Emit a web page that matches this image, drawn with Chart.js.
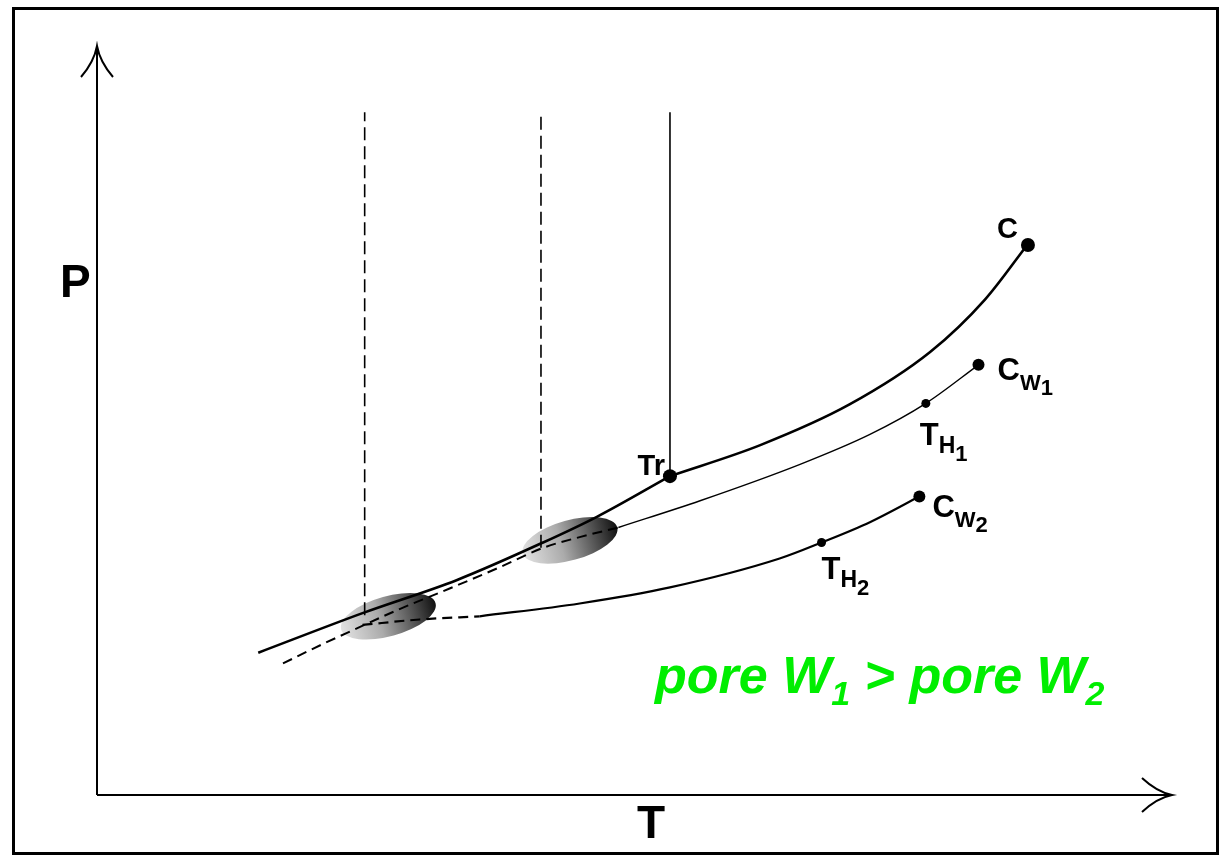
<!DOCTYPE html>
<html>
<head>
<meta charset="utf-8">
<script src="https://cdn.jsdelivr.net/npm/chart.js@4.4.0/dist/chart.umd.min.js"></script>
<style>
  html, body { margin: 0; padding: 0; background: #fff; }
  #wrap { width: 1220px; height: 856px; }
</style>
</head>
<body>
<div id="wrap"><canvas id="phaseChart" width="1220" height="856"></canvas></div>
<script>
  // Schematic P-T diagram (arbitrary units)
  // bulk: sublimation branch up to Tr, then vaporization branch up to C
  const sublT = [15.0, 24.7, 33.5, 41.5, 46.5, 53.3];
  const sublP = [13.3, 17.0, 20.1, 23.6, 26.0, 29.8];
  const vapT = [53.3, 61.7, 70.0, 77.5, 82.6, 86.6];
  const vapP = [29.8, 32.7, 36.5, 41.4, 46.3, 51.5];

  // pore W1: metastable (dashed) part and stable part up to Cw1
  const w1MetaT = [17.3, 21.2, 23.8, 28.2, 32.8, 37.5, 41.5, 44.9, 48.5];
  const w1MetaP = [12.3, 14.2, 15.4, 17.4, 19.3, 21.3, 23.1, 24.1, 25.0];
  const w1T = [48.5, 56.1, 65.4, 71.9, 77.1, 82.0];
  const w1P = [25.0, 27.5, 30.9, 33.7, 36.6, 40.2];

  // pore W2
  const w2MetaT = [24.7, 30.0, 35.6];
  const w2MetaP = [15.9, 16.4, 16.7];
  const w2T = [35.6, 44.9, 53.3, 63.5, 67.4, 71.9, 76.5];
  const w2P = [16.7, 17.9, 19.4, 22.1, 23.6, 25.5, 27.9];

  // vertical lines (T position, bottom P, top P)
  const vertT = [24.9, 41.3, 53.3];
  const vertBottom = [16.8, 23.1, 29.8];
  const vertTop = 63.8;

  // shaded blobs (freezing regions in the pores)
  const blobT = [27.1, 44.0];
  const blobP = [16.7, 23.8];

  // marked points
  const markNames = ["C", "Tr", "Cw1", "TH1", "Cw2", "TH2"];
  const markT = [86.6, 53.3, 82.0, 77.1, 76.5, 67.4];
  const markP = [51.4, 29.8, 40.2, 36.6, 27.9, 23.6];
  const markR = [7, 7, 6, 4.5, 6, 4.5];

  function zip(xs, ys) {
    return xs.map((x, i) => ({ x: x, y: ys[i] }));
  }

  const FONT = '"Liberation Sans", Arial, Helvetica, sans-serif';

  function curve(data, width, dash) {
    return {
      data: data,
      showLine: true,
      borderColor: "#000",
      borderWidth: width,
      borderDash: dash || [],
      pointRadius: 0,
      cubicInterpolationMode: "monotone",
      fill: false,
    };
  }

  const datasets = [
    curve(zip(sublT, sublP), 2.6),
    curve(zip(vapT, vapP), 2.6),
    curve(zip(w1MetaT, w1MetaP), 2, [10, 6]),
    curve(zip(w1T, w1P), 1.4),
    curve(zip(w2MetaT, w2MetaP), 2.2, [10, 6]),
    curve(zip(w2T, w2P), 2.2),
  ];

  vertT.forEach((t, i) => {
    const ds = curve([{ x: t, y: vertBottom[i] }, { x: t, y: vertTop }], 1.6, i < 2 ? [13, 6] : []);
    ds.cubicInterpolationMode = "default";
    ds.tension = 0;
    datasets.push(ds);
  });

  datasets.push({
    data: zip(markT, markP),
    showLine: false,
    pointRadius: markR,
    pointBackgroundColor: "#000",
    pointBorderWidth: 0,
  });

  // label parts: [text, size, dy]
  const labels = {
    C: { dx: -31, dy: -7, parts: [["C", 29, 0]] },
    Tr: { dx: -5, dy: -1, align: "right", parts: [["Tr", 29, 0]] },
    Cw1: { dx: 19, dy: 15, parts: [["C", 31, 0], ["W", 22, 10], ["1", 22, 15]] },
    TH1: { dx: -6, dy: 42, parts: [["T", 31, 0], ["H", 23, 8], ["1", 22, 16]] },
    Cw2: { dx: 13, dy: 21, parts: [["C", 31, 0], ["W", 22, 10], ["2", 22, 15]] },
    TH2: { dx: 0, dy: 37, parts: [["T", 31, 0], ["H", 23, 8], ["2", 22, 16]] },
  };

  function measureParts(ctx, parts, style) {
    let total = 0;
    parts.forEach(p => {
      ctx.font = style + " " + p[1] + "px " + FONT;
      total += ctx.measureText(p[0]).width;
    });
    return total;
  }

  function writeParts(ctx, x, y, parts, style) {
    let cx = x;
    parts.forEach(p => {
      ctx.font = style + " " + p[1] + "px " + FONT;
      ctx.fillText(p[0], cx, y + p[2]);
      cx += ctx.measureText(p[0]).width;
    });
  }

  function arrowHead(ctx, tipX, tipY, dir) {
    ctx.beginPath();
    if (dir === "up") {
      ctx.moveTo(tipX - 16, tipY + 31);
      ctx.quadraticCurveTo(tipX - 3, tipY + 16, tipX, tipY);
      ctx.quadraticCurveTo(tipX + 3, tipY + 16, tipX + 16, tipY + 31);
    } else {
      ctx.moveTo(tipX - 30, tipY - 17);
      ctx.quadraticCurveTo(tipX - 15, tipY - 3, tipX, tipY);
      ctx.quadraticCurveTo(tipX - 15, tipY + 3, tipX - 30, tipY + 17);
    }
    ctx.stroke();
  }

  const phasePlugin = {
    id: "phaseDecor",
    beforeDatasetsDraw(chart) {
      const ctx = chart.ctx;
      const xs = chart.scales.x;
      const ys = chart.scales.y;
      blobT.forEach((t, i) => {
        const cx = xs.getPixelForValue(t);
        const cy = ys.getPixelForValue(blobP[i]);
        ctx.save();
        ctx.translate(cx, cy);
        ctx.rotate(-0.27);
        const g = ctx.createLinearGradient(-49, 0, 49, 0);
        g.addColorStop(0, "#e2e2e2");
        g.addColorStop(0.4, "#ababab");
        g.addColorStop(0.8, "#454545");
        g.addColorStop(1, "#111");
        ctx.fillStyle = g;
        ctx.beginPath();
        ctx.ellipse(0, 0, 49, 20, 0, 0, Math.PI * 2);
        ctx.fill();
        ctx.restore();
      });
    },
    afterDraw(chart) {
      const ctx = chart.ctx;
      const area = chart.chartArea;
      const xs = chart.scales.x;
      const ys = chart.scales.y;
      ctx.save();

      // frame
      ctx.strokeStyle = "#000";
      ctx.lineWidth = 3;
      ctx.strokeRect(13.5, 8.5, 1204, 845);

      // axes with arrow heads
      ctx.lineWidth = 2;
      ctx.beginPath();
      ctx.moveTo(area.left, area.bottom);
      ctx.lineTo(area.left, area.top);
      ctx.moveTo(area.left, area.bottom);
      ctx.lineTo(area.right, area.bottom);
      ctx.stroke();
      arrowHead(ctx, area.left, area.top, "up");
      arrowHead(ctx, area.right, area.bottom, "right");

      ctx.fillStyle = "#000";
      ctx.textBaseline = "alphabetic";
      ctx.textAlign = "left";
      ctx.font = "bold 46px " + FONT;
      ctx.fillText("P", 60, 297);
      ctx.fillText("T", 637, 838);

      // point labels
      markNames.forEach((name, i) => {
        const lab = labels[name];
        const px = xs.getPixelForValue(markT[i]);
        const py = ys.getPixelForValue(markP[i]);
        let x = px + lab.dx;
        if (lab.align === "right") {
          x -= measureParts(ctx, lab.parts, "bold");
        }
        writeParts(ctx, x, py + lab.dy, lab.parts, "bold");
      });

      // pore size note
      ctx.fillStyle = "#00ee00";
      writeParts(ctx, 655, 693, [
        ["pore W", 52, 0], ["1", 34, 12], [" > pore W", 52, 0], ["2", 34, 12]
      ], "italic bold");

      ctx.restore();
    }
  };

  new Chart(document.getElementById("phaseChart"), {
    type: "scatter",
    data: { datasets: datasets },
    options: {
      responsive: false,
      animation: false,
      layout: { padding: { left: 97, right: 48, top: 46, bottom: 61 } },
      scales: {
        x: { type: "linear", min: 0, max: 100, display: false },
        y: { type: "linear", min: 0, max: 70, display: false },
      },
      plugins: {
        legend: { display: false },
        tooltip: { enabled: false },
      },
    },
    plugins: [phasePlugin],
  });
</script>
</body>
</html>
